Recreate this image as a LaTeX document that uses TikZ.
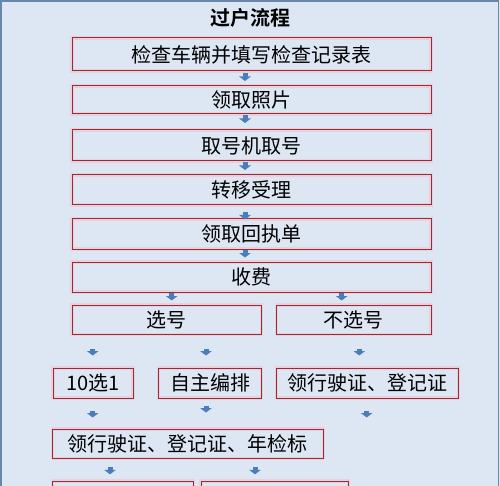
\documentclass[tikz,border=0pt]{standalone}
\usepackage{fontspec}
\usetikzlibrary{arrows.meta}
\newfontfamily\cjk{Noto Sans CJK SC}
\newfontfamily\cjkbold{Noto Sans CJK SC Bold}
\definecolor{bgblue}{RGB}{220,231,243}
\definecolor{framegray}{RGB}{105,135,170}
\definecolor{boxred}{RGB}{150,45,60}
\definecolor{glowpink}{RGB}{234,208,218}
\definecolor{arrowblue}{RGB}{74,126,187}

\begin{document}
\begin{tikzpicture}[x=1pt,y=1pt]
\tikzstyle{every node}+=[inner sep=0pt]
\tikzstyle{box}=[draw=boxred, line width=1pt, preaction={draw=glowpink, line width=3.5pt}, font=\cjk\fontsize{20}{20}\selectfont]
\tikzstyle{blockarrow}=[arrowblue, line width=5pt, -{Triangle[width=11.5pt,length=4.5pt]}]
\useasboundingbox (0,0) rectangle (500,-486);
\clip (0,0) rectangle (500,-486);
\fill [bgblue] (0,0) rectangle (500,-486);
\draw [framegray, line width=1.5pt] (1,-1) rectangle (498.5,-520);
\draw (250,-18) node [font=\cjkbold\fontsize{20}{20}\selectfont] (title) {过户流程};
\draw (251.5,-54.5) node [box, minimum width=359pt, minimum height=33pt] (check) {检查车辆并填写检查记录表};
\draw (251.5,-100) node [box, minimum width=359pt, minimum height=28pt] (photo) {领取照片};
\draw (251.5,-145.5) node [box, minimum width=359pt, minimum height=31pt] (number) {取号机取号};
\draw (251.5,-190) node [box, minimum width=359pt, minimum height=30pt] (accept) {转移受理};
\draw (251.5,-234) node [box, minimum width=359pt, minimum height=30pt] (receipt) {领取回执单};
\draw (251.5,-277) node [box, minimum width=359pt, minimum height=30pt] (fee) {收费};
\draw (166.75,-319.75) node [box, minimum width=189.5pt, minimum height=29.5pt] (pick) {选号};
\draw (353.75,-319.75) node [box, minimum width=154.5pt, minimum height=29.5pt] (nopick) {不选号};
\draw (93,-383) node [box, minimum width=80pt, minimum height=30pt] (tenone) {10选1};
\draw (210,-383) node [box, minimum width=103.4pt, minimum height=30pt] (self) {自主编排};
\draw (367.7,-383) node [box, minimum width=182pt, minimum height=30pt] (papers) {领行驶证、登记证};
\draw (187.9,-443.7) node [box, minimum width=270.8pt, minimum height=29.3pt] (papersall) {领行驶证、登记证、年检标};
\draw (122.9,-496) node [box, minimum width=140.8pt, minimum height=30pt] (next1) {};
\draw (274.7,-496) node [box, minimum width=147.3pt, minimum height=30pt] (next2) {};
% small block arrows
\draw [blockarrow] (check.south -| 245,0) ++(0,-2) -- ++(0,-7.5);
\draw [blockarrow] (photo.south -| 245,0) ++(0,-1) -- ++(0,-7.5);
\draw [blockarrow] (number.south -| 245,0) ++(0,-1) -- ++(0,-7.5);
\draw [blockarrow] (accept.south -| 245,0) ++(0,-6.5) -- ++(0,-7.5);
\draw [blockarrow] (receipt.south -| 245,0) ++(0,-0.5) -- ++(0,-7.5);
\draw [blockarrow] (fee.south -| 171.7,0) ++(0,-0.5) -- ++(0,-7.5);
\draw [blockarrow] (fee.south -| 341.7,0) ++(0,-0.5) -- ++(0,-7.5);
\draw [blockarrow] (pick.south -| 92.7,0) ++(0,-13.5) -- ++(0,-7);
\draw [blockarrow] (pick.south -| 206,0) ++(0,-13.5) -- ++(0,-7);
\draw [blockarrow] (nopick.south -| 359.3,0) ++(0,-13.5) -- ++(0,-7);
\draw [blockarrow] (tenone.south -| 92.7,0) ++(0,-12) -- ++(0,-7);
\draw [blockarrow] (self.south -| 206,0) ++(0,-7) -- ++(0,-7);
\draw [blockarrow] (papers.south -| 366.7,0) ++(0,-12) -- ++(0,-7);
\draw [blockarrow] (papersall.south -| 110,0) ++(0,-8.5) -- ++(0,-7);
\draw [blockarrow] (papersall.south -| 255,0) ++(0,-8.5) -- ++(0,-7);
\end{tikzpicture}
\end{document}
